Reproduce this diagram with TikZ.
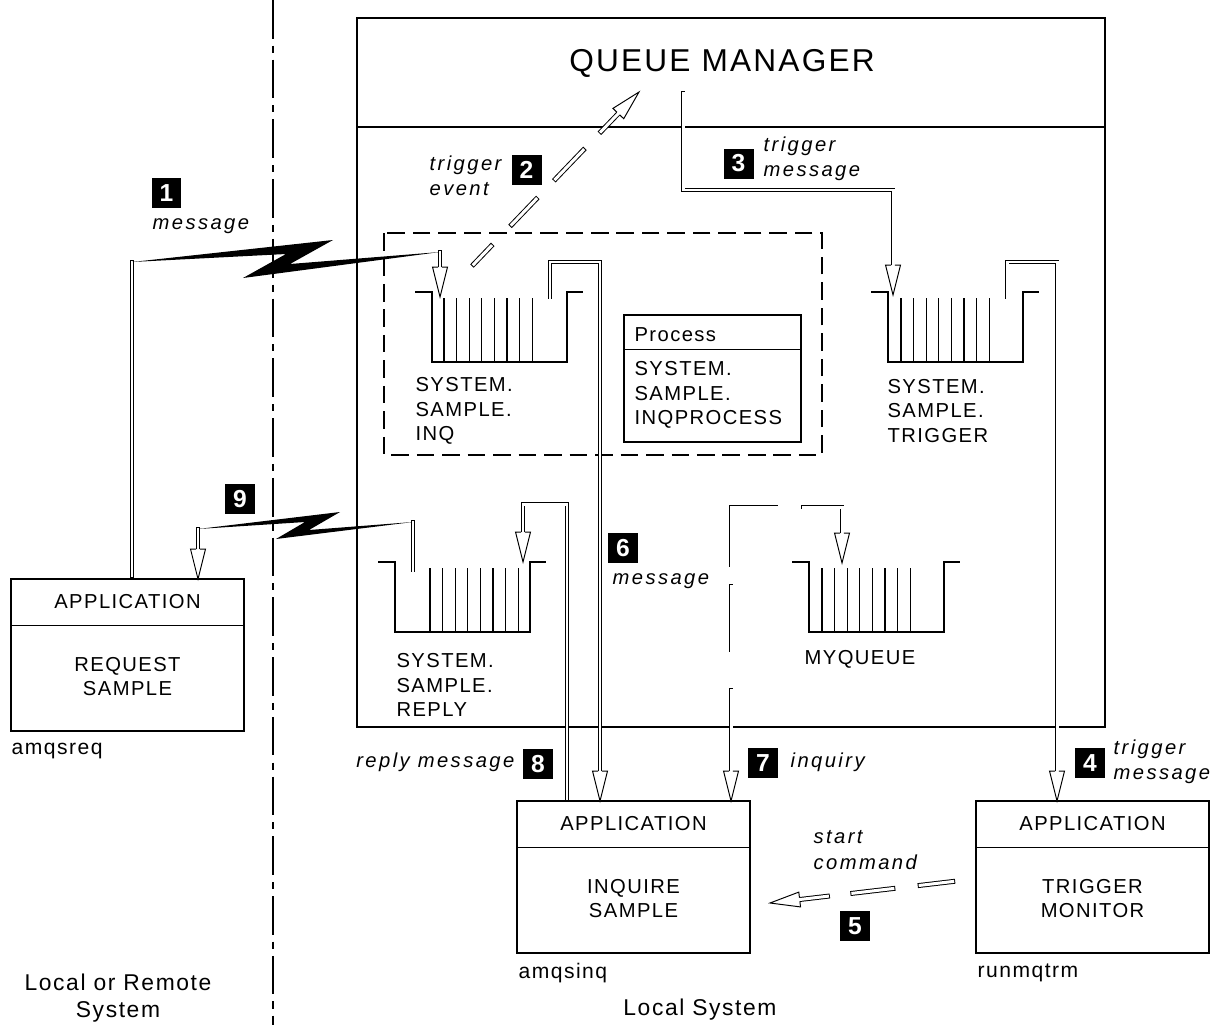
\documentclass[tikz,border=0pt]{standalone}
\usepackage{fontspec}
\setmainfont{Liberation Sans}[LetterSpace=7]
\newfontfamily\itlab{Liberation Sans}[LetterSpace=12]
\usetikzlibrary{calc}

\tikzset{
  box/.style={draw, line width=0.7pt, inner sep=0pt},
  appbox/.style={box, minimum width=4.66cm, minimum height=3.04cm},
  shaft/.style={double, double distance=1.7pt, line width=0.55pt, line cap=rect},
  divider/.style={line width=0.7pt, dash pattern=on 22pt off 4pt on 4pt off 4pt},
  dashbox/.style={line width=0.7pt, dash pattern=on 10pt off 4.5pt},
  badge/.style={fill=black, text=white, minimum size=0.6cm, inner sep=0pt,
    font=\fontsize{14}{14}\selectfont\bfseries},
  lbl/.style={font=\itlab\itshape\fontsize{11.5}{14.5}\selectfont, align=left,
    anchor=west, inner sep=0pt},
  txt/.style={font=\fontsize{11.5}{14}\selectfont, align=center, inner sep=0pt},
  qname/.style={txt, align=left, anchor=west},
  pics/queue/.style={code={
    \draw[line width=0.7pt] (-17,-70) -- (0,-70) -- (0,0) -- (135,0) -- (135,-70) -- (151,-70);
    \foreach \k in {0,...,7} \draw[line width=0.6pt] (#1+\k*12.6,0) -- ++(0,-64);
  }},
}

% open arrow head: #1 a point behind the tip, #2 the tip
\newcommand\hollowhead[2]{%
  \coordinate (hb) at ($(#2)!17pt!(#1)$);
  \filldraw[fill=white, line width=0.55pt] ($(hb)!1.1pt!90:(#2)$) -- ($(hb)!4.25pt!90:(#2)$)
    -- (#2) -- ($(hb)!4.25pt!-90:(#2)$) -- ($(hb)!1.1pt!-90:(#2)$);}

\begin{document}
\begin{tikzpicture}[x=0.02cm, y=-0.02cm, line width=0.7pt]
\useasboundingbox (0,0) rectangle (1214,1025);

\draw[divider] (273,0) -- (273,1025);

% queue manager
\draw (357,18) rectangle (1105,727);
\draw (357,127) -- (1105,127);
\node[font=\fontsize{18}{20}\selectfont] (qmtitle) at (722,63) {QUEUE MANAGER};
\draw[dashbox] (384,233) rectangle (822,455);

% queues
\pic at (432,362) {queue=12};
\pic at (395,632) {queue=35};
\pic at (888,362) {queue=13};
\pic at (809,632) {queue=13};
\node[qname] (inqname) at (415,411) {SYSTEM.\\SAMPLE.\\INQ};
\node[qname] (replyname) at (396,685) {SYSTEM.\\SAMPLE.\\REPLY};
\node[qname] (trigname) at (887,411) {SYSTEM.\\SAMPLE.\\TRIGGER};
\node[txt] (myname) at (860,659) {MYQUEUE};

% process definition
\node[box, minimum width=3.54cm, minimum height=2.54cm] (proc) at (712.5,378.5) {};
\draw ([yshift=-0.7cm]proc.north west) -- ([yshift=-0.7cm]proc.north east);
\node[qname] (proctitle) at (634,335) {Process};
\node[qname] (procname) at (634,395) {SYSTEM.\\SAMPLE.\\INQPROCESS};

% applications
\node[appbox] (reqapp) at (127.5,655) {};
\node[appbox] (inqapp) at (633.5,877) {};
\node[appbox] (trgapp) at (1092.5,877) {};
\draw ([yshift=-0.94cm]reqapp.north west) -- ([yshift=-0.94cm]reqapp.north east);
\draw ([yshift=-0.94cm]inqapp.north west) -- ([yshift=-0.94cm]inqapp.north east);
\draw ([yshift=-0.94cm]trgapp.north west) -- ([yshift=-0.94cm]trgapp.north east);
\node[txt] at ([yshift=-0.47cm]reqapp.north) {APPLICATION};
\node[txt] at ([yshift=-0.47cm]inqapp.north) {APPLICATION};
\node[txt] at ([yshift=-0.47cm]trgapp.north) {APPLICATION};
\node[txt] (reqtext) at ([yshift=-1.96cm]reqapp.north) {REQUEST\\SAMPLE};
\node[txt] (inqtext) at ([yshift=-1.96cm]inqapp.north) {INQUIRE\\SAMPLE};
\node[txt] (trgtext) at ([yshift=-1.96cm]trgapp.north) {TRIGGER\\MONITOR};
\node[qname, font=\fontsize{12}{14}\selectfont] (reqcmd) at (11,751) {amqsreq};
\node[qname, font=\fontsize{12}{14}\selectfont] (inqcmd) at (518,973) {amqsinq};
\node[qname, font=\fontsize{12}{14}\selectfont] (trgcmd) at (977,973) {runmqtrm};
\node[txt, font=\fontsize{13}{15.3}\selectfont] (remote) at (118,998) {Local or Remote\\System};
\node[txt, font=\fontsize{13}{15.3}\selectfont] (localsys) at (700,1010) {Local System};

% 1 message
\coordinate (b1l) at (132,262);
\coordinate (b1r) at (440,252);
\coordinate (t1) at (440,297);
\draw[shaft, shorten >=1.4pt] (b1l) -- (b1l |- reqapp.north);
\fill (b1l) -- (333,240) -- (290,264) -- (b1r) -- (243,278) -- (286,254) -- cycle;
\draw[shaft, shorten >=17pt] (b1r) -- (t1);
\hollowhead{b1r}{t1}
\node[badge] (n1) at (166.5,193) {1};
\node[lbl] (l1) at (152,226) {message};

% 2 trigger event
\coordinate (ev1) at (472,266);
\coordinate (ev2) at (639,92);
\foreach \a/\b in {0.01/0.114, 0.238/0.384, 0.5/0.666, 0.773/0.876}
  \draw[shaft] ($(ev1)!\a!(ev2)$) -- ($(ev1)!\b!(ev2)$);
\hollowhead{ev1}{ev2}
\node[badge] (n2) at (526.5,169.5) {2};
\node[lbl] (l2) at (429,176) {trigger\\event};

% 3 trigger message
\coordinate (c3) at (683,93);
\coordinate (t3) at (893,295);
\draw[shaft, shorten >=17pt] (c3) -- (683,190) -- (893,190) -- (t3);
\hollowhead{893,190}{t3}
\node[badge] (n3) at (738.5,163.5) {3};
\node[lbl] (l3) at (763,159) {trigger\\message};

% 4 trigger message
\coordinate (c4) at (1007,297);
\coordinate (t4) at (1057,801);
\draw[shaft, shorten >=17pt] (c4) -- (1007,262) -- (1057,262) -- (t4);
\hollowhead{1057,262}{t4}
\node[badge] (n4) at (1090,763) {4};
\node[lbl] (l4) at (1113,762) {trigger\\message};

% 5 start command
\coordinate (st1) at (957,881);
\coordinate (st2) at (770,903);
\foreach \a/\b in {0.023/0.197, 0.343/0.557, 0.693/0.84}
  \draw[shaft] ($(st1)!\a!(st2)$) -- ($(st1)!\b!(st2)$);
\hollowhead{st1}{st2}
\node[badge] (n5) at (855,926) {5};
\node[lbl] (l5) at (813,850) {start\\command};

% 6 message
\coordinate (c6) at (550,297);
\coordinate (t6) at (600,801);
\draw[shaft, shorten >=17pt] (c6) -- (550,262) -- (600,262) -- (t6);
\hollowhead{600,262}{t6}
\node[badge] (n6) at (623,548) {6};
\node[lbl] (l6) at (612,581) {message};

% 7 inquiry
\coordinate (t7q) at (842,563);
\coordinate (t7i) at (731,801);
\draw[shaft] (731,565) -- (731,507) -- (776,507);
\draw[shaft, shorten >=17pt] (803,507) -- (842,507) -- (t7q);
\hollowhead{842,507}{t7q}
\draw[shaft] (731,586) -- (731,650);
\draw[shaft, shorten >=17pt] (731,690) -- (t7i);
\hollowhead{731,690}{t7i}
\node[badge] (n7) at (763,763) {7};
\node[lbl] (l7) at (790,762) {inquiry};

% 8 reply message
\coordinate (c8) at (567,801);
\coordinate (t8) at (523,562);
\draw[shaft, shorten <=1.4pt, shorten >=17pt] (c8) -- (567,504) -- (523,504) -- (t8);
\hollowhead{523,504}{t8}
\node[badge] (n8) at (538,764) {8};
\node[lbl, anchor=east] (l8) at (515,762) {reply message};

% 9 reply
\coordinate (b9l) at (198,529);
\coordinate (b9r) at (413,522);
\coordinate (t9) at (198,579);
\fill (b9l) -- (340,512) -- (309,530) -- (b9r) -- (276,539) -- (305,522) -- cycle;
\draw[shaft] (b9r) -- (413,570);
\draw[shaft, shorten >=17pt] (b9l) -- (t9);
\hollowhead{b9l}{t9}
\node[badge] (n9) at (240,499) {9};
\end{tikzpicture}
\end{document}
